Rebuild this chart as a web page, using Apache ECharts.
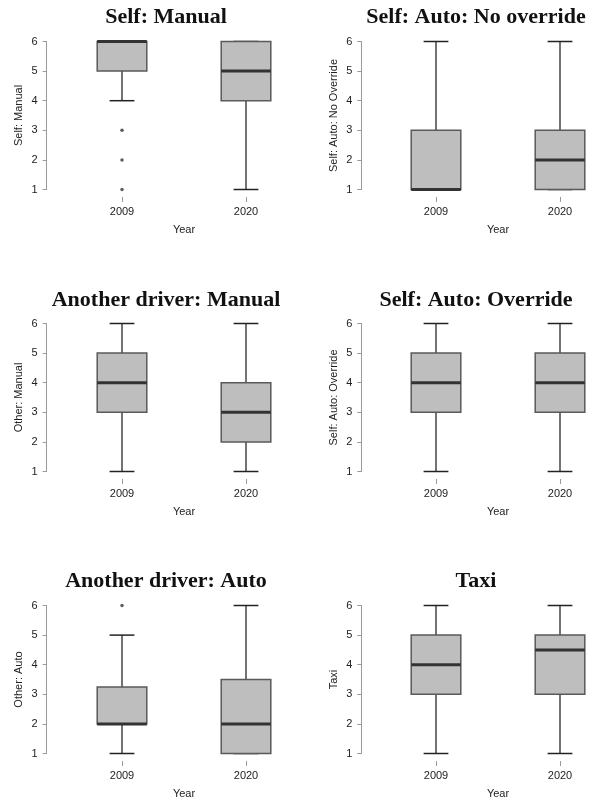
<!DOCTYPE html>
<html>
<head>
<meta charset="utf-8">
<title>Box plots</title>
<script src="https://cdn.jsdelivr.net/npm/echarts@6/dist/echarts.min.js"></script>
<style>
  html, body { margin: 0; padding: 0; background: #fff; }
  #main { width: 596px; height: 801px; }
</style>
</head>
<body>
<div id="main"></div>
<script>
// 年份
var years = ['2009', '2020'];

// 每个面板：[下须, Q1, 中位数, Q3, 上须]，依次为 2009、2020
var selfManual = [[4, 5, 6, 6, 6], [1, 4, 5, 6, 6]];
var selfAutoNoOverride = [[1, 1, 1, 3, 6], [1, 1, 2, 3, 6]];
var otherManual = [[1, 3, 4, 5, 6], [1, 2, 3, 4, 6]];
var selfAutoOverride = [[1, 3, 4, 5, 6], [1, 3, 4, 5, 6]];
var otherAuto = [[1, 2, 2, 3.25, 5], [1, 1, 2, 3.5, 6]];
var taxi = [[1, 3, 4, 5, 6], [1, 3, 4.5, 5, 6]];

// 离群点 [年份序号, 值]
var selfManualOutliers = [[0, 3], [0, 2], [0, 1]];
var otherAutoOutliers = [[0, 6]];

var yTicks = [1, 2, 3, 4, 5, 6];

var panels = [
  { title: 'Self: Manual', yName: 'Self: Manual', data: selfManual, outliers: selfManualOutliers },
  { title: 'Self: Auto: No override', yName: 'Self: Auto: No Override', data: selfAutoNoOverride, outliers: [] },
  { title: 'Another driver: Manual', yName: 'Other: Manual', data: otherManual, outliers: [] },
  { title: 'Self: Auto: Override', yName: 'Self: Auto: Override', data: selfAutoOverride, outliers: [] },
  { title: 'Another driver: Auto', yName: 'Other: Auto', data: otherAuto, outliers: otherAutoOutliers },
  { title: 'Taxi', yName: 'Taxi', data: taxi, outliers: [] }
];

var colLeft = [60, 374];
var colOffset = [13.3, 12.7];
var titleX = [166, 476];
var rowTop = [41.5, 323.5, 605.5];
var titleY = [17.5, 300, 581.5];

var sans = '"Liberation Sans", Arial, sans-serif';
var axisGray = '#9a9a9a';

function renderBox(params, api) {
  var x = api.value(0);
  var low = api.coord([x, api.value(1)]);
  var q1 = api.coord([x, api.value(2)]);
  var med = api.coord([x, api.value(3)]);
  var q3 = api.coord([x, api.value(4)]);
  var high = api.coord([x, api.value(5)]);
  var band = api.size([1, 0])[0];
  var half = band * 0.2;
  var cap = band * 0.1;
  var cx = low[0];
  var whisker = { stroke: '#454545', lineWidth: 1.5 };
  var capStyle = { stroke: '#222', lineWidth: 1.5 };
  return {
    type: 'group',
    children: [
      { type: 'line', shape: { x1: cx, y1: q1[1], x2: cx, y2: low[1] }, style: whisker },
      { type: 'line', shape: { x1: cx, y1: q3[1], x2: cx, y2: high[1] }, style: whisker },
      { type: 'line', shape: { x1: cx - cap, y1: low[1], x2: cx + cap, y2: low[1] }, style: capStyle },
      { type: 'line', shape: { x1: cx - cap, y1: high[1], x2: cx + cap, y2: high[1] }, style: capStyle },
      {
        type: 'rect',
        shape: { x: cx - half, y: q3[1], width: half * 2, height: q1[1] - q3[1] },
        style: { fill: '#bebebe', stroke: '#5a5a5a', lineWidth: 1.5 }
      },
      { type: 'line', shape: { x1: cx - half, y1: med[1], x2: cx + half, y2: med[1] }, style: { stroke: '#333', lineWidth: 3 } }
    ]
  };
}

var grid = [], xAxis = [], yAxis = [], series = [], graphic = [];

panels.forEach(function (p, i) {
  var col = i % 2;
  var row = Math.floor(i / 2);
  grid.push({ left: colLeft[col], top: rowTop[row], width: 248, height: 148, outerBoundsMode: 'none', containLabel: false });
  xAxis.push({
    type: 'category',
    gridIndex: i,
    data: years,
    boundaryGap: true,
    offset: 7.5,
    name: 'Year',
    nameLocation: 'middle',
    nameGap: 27,
    nameTextStyle: { fontFamily: sans, fontSize: 11, color: '#222' },
    axisLine: { show: false },
    axisTick: { show: true, alignWithLabel: true, length: 5, lineStyle: { color: axisGray } },
    axisLabel: { fontFamily: sans, fontSize: 11, color: '#222', margin: 9 },
    splitLine: { show: false }
  });
  yAxis.push({
    type: 'value',
    gridIndex: i,
    min: yTicks[0],
    max: yTicks[yTicks.length - 1],
    interval: 1,
    offset: colOffset[col],
    name: p.yName,
    nameLocation: 'middle',
    nameRotate: 90,
    nameGap: 22,
    nameTextStyle: { fontFamily: sans, fontSize: 11, color: '#222' },
    axisLine: { show: true, lineStyle: { color: axisGray, width: 1 } },
    axisTick: { show: true, length: 4, lineStyle: { color: axisGray } },
    axisLabel: { fontFamily: sans, fontSize: 11, color: '#222', margin: 9 },
    splitLine: { show: false }
  });
  series.push({
    type: 'custom',
    xAxisIndex: i,
    yAxisIndex: i,
    renderItem: renderBox,
    encode: { x: 0, y: [1, 2, 3, 4, 5] },
    data: p.data.map(function (d, k) { return [k].concat(d); }),
    clip: false,
    silent: true
  });
  if (p.outliers.length) {
    series.push({
      type: 'scatter',
      xAxisIndex: i,
      yAxisIndex: i,
      symbol: 'circle',
      symbolSize: 3.5,
      itemStyle: { color: '#333' },
      data: p.outliers,
      silent: true
    });
  }
  graphic.push({
    type: 'text',
    x: titleX[col],
    y: titleY[row],
    style: {
      text: p.title,
      fontFamily: '"Liberation Serif", "Times New Roman", serif',
      fontWeight: 'bold',
      fontSize: 22,
      fill: '#111',
      align: 'center',
      verticalAlign: 'middle'
    }
  });
});

var chart = echarts.init(document.getElementById('main'));
chart.setOption({
  animation: false,
  backgroundColor: '#fff',
  grid: grid,
  xAxis: xAxis,
  yAxis: yAxis,
  series: series,
  graphic: graphic
});
</script>
</body>
</html>
